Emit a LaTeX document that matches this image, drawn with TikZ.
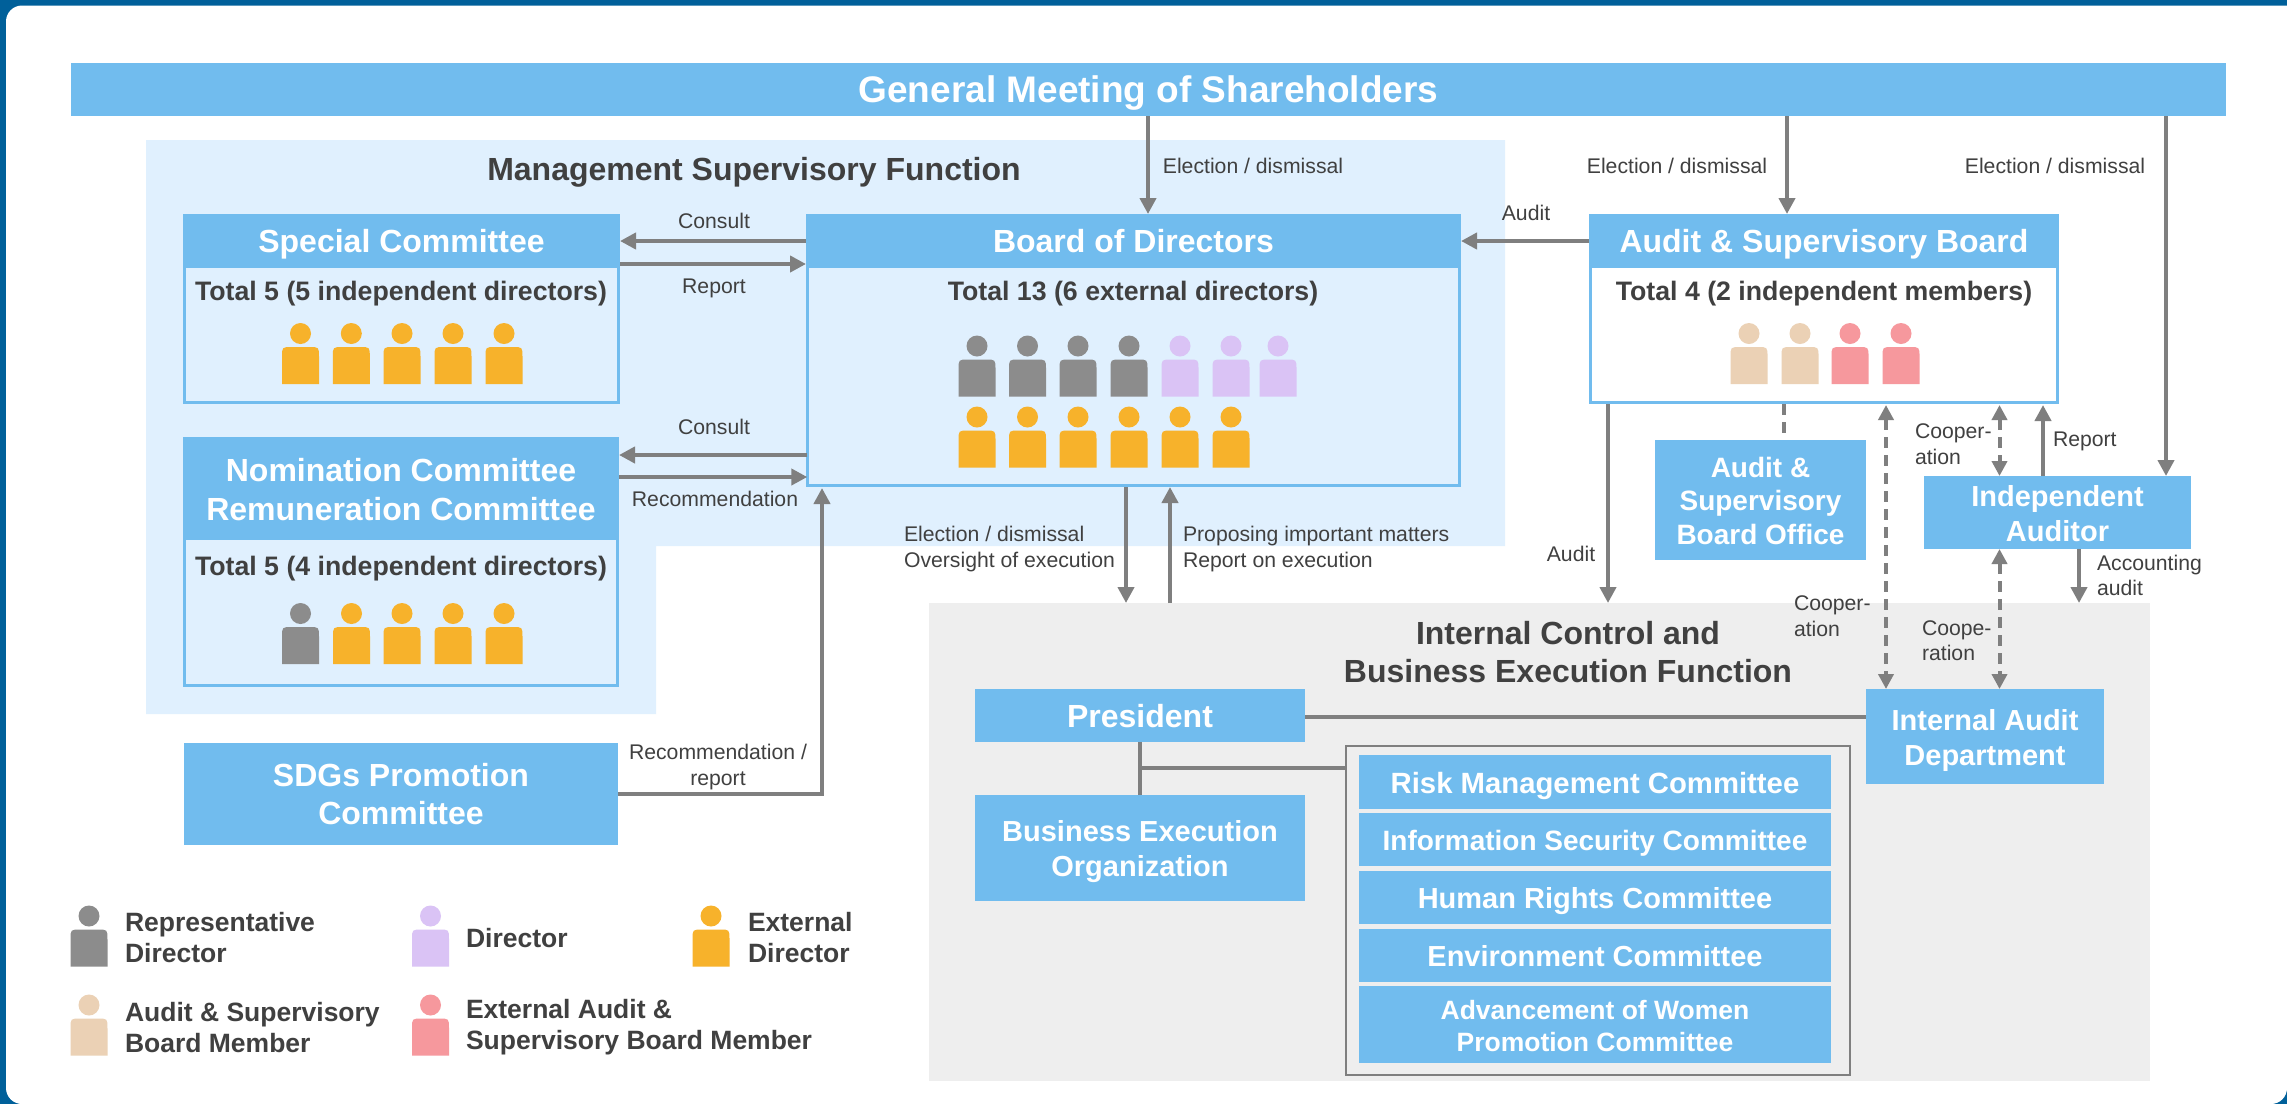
\documentclass[tikz,border=0pt]{standalone}
\usepackage{fontspec}
\setmainfont{Liberation Sans}
\usetikzlibrary{arrows.meta,calc}
\definecolor{frameblue}{HTML}{00609A}
\definecolor{boxblue}{HTML}{71BCEE}
\definecolor{paleblue}{HTML}{E0F0FE}
\definecolor{palegray}{HTML}{EEEEEE}
\definecolor{linegray}{HTML}{7F7F7F}
\definecolor{txt}{HTML}{404040}
\definecolor{prep}{HTML}{8C8C8C}
\definecolor{pdir}{HTML}{DAC3F5}
\definecolor{pext}{HTML}{F7B22B}
\definecolor{paud}{HTML}{EBD1B5}
\definecolor{pxau}{HTML}{F6989D}
\newcommand{\fsz}[2]{\fontsize{#1pt}{#2pt}\selectfont}
% centred block of lines, optically centred in its node
\newcommand{\blk}[3]{\raisebox{-10.5pt}[0pt][0pt]{\fsz{#1}{#2}\begin{tabular}[c]{@{}c@{}}#3\end{tabular}}}
\tikzset{
  region/.style={fill=#1,draw=none,inner sep=0,outer sep=0},
  bluebox/.style={fill=boxblue,draw=none,inner sep=0,outer sep=0,text=white,font=\bfseries},
  outline/.style={fill=#1,draw=boxblue,line width=2.6pt,inner sep=0,outer sep=0},
  graybox/.style={draw=linegray,line width=2.6pt,fill=none,inner sep=0,outer sep=0},
  lbl/.style={text=txt,inner sep=0,outer sep=0,font=\fsz{21.2}{26},align=center},
  lbll/.style={text=txt,inner sep=0,outer sep=0,font=\fsz{21.2}{25.5},align=left,anchor=west},
  lead/.style={text=txt,inner sep=0,outer sep=0,font=\bfseries\fsz{26.7}{32}},
  legendtext/.style={text=txt,inner sep=0,outer sep=0,font=\bfseries\fsz{26.5}{31},align=left,anchor=west},
  headline/.style={text=txt,inner sep=0,outer sep=0,font=\bfseries\fsz{32}{38},align=center},
  conn/.style={draw=linegray,line width=4.4pt},
  arr/.style={conn,-{Triangle[length=16pt,width=16pt]}},
  darr/.style={draw=linegray,line width=4pt,dash pattern=on 11pt off 7pt,{Triangle[length=15pt,width=15pt]}-{Triangle[length=15pt,width=15pt]}},
  dline/.style={draw=linegray,line width=4pt,dash pattern=on 11pt off 7pt},
}
% [style]{name}{x0}{y0}{x1}{y1}{text}
\newcommand{\rectnode}[7][]{%
  \pgfmathsetmacro\rnw{#5-#3}\pgfmathsetmacro\rnh{#6-#4}%
  \pgfmathsetmacro\rnx{(#3+#5)/2}\pgfmathsetmacro\rny{(#4+#6)/2}%
  \node[#1,minimum width=\rnw pt,minimum height=\rnh pt] (#2) at (\rnx,\rny) {#7};}
% {x}{head centre y}{colour}
\newcommand{\person}[3]{%
  \pgfmathsetmacro\pl{#1-18.5}\pgfmathsetmacro\pr{#1+18.5}%
  \pgfmathsetmacro\pt{#2+13.5}\pgfmathsetmacro\pb{#2+50.5}%
  \pgfmathsetmacro\pla{#1-8.5}\pgfmathsetmacro\pra{#1+8.5}\pgfmathsetmacro\pta{#2+23.5}%
  \fill[#3] (#1,#2) circle (10.5);
  \fill[#3] (\pl,\pb) -- (\pl,\pta) .. controls (\pl,\pt) and (\pl,\pt) .. (\pla,\pt)
     -- (\pra,\pt) .. controls (\pr,\pt) and (\pr,\pt) .. (\pr,\pta) -- (\pr,\pb) -- cycle;}
\begin{document}
\begin{tikzpicture}[x=1pt,y=-1pt]
\useasboundingbox (0,0) rectangle (2287,1104);
\fill[frameblue] (0,0) rectangle (2287,1104);
\fill[white] [rounded corners=16pt] (2287,5.5) -- (6,5.5) -- (6,1104) -- (2287,1104) [sharp corners] -- cycle;

% regions
\fill[paleblue] (146,140) -- (1505,140) -- (1505,546) -- (656,546) -- (656,714) -- (146,714) -- cycle;
\rectnode[region=palegray]{icb}{929}{603}{2150}{1081}{}

% top bar
\rectnode[bluebox]{gms}{71}{63}{2226}{116}{\blk{37}{42}{General Meeting of Shareholders}}

% boxes with header
\rectnode[outline=paleblue]{sc}{184.3}{215.3}{618.7}{402.7}{}
\rectnode[bluebox]{schead}{183}{214}{620}{268}{\blk{32}{38}{Special Committee}}
\rectnode[outline=paleblue]{bod}{807.3}{215.3}{1459.7}{485.7}{}
\rectnode[bluebox]{bodhead}{806}{214}{1461}{268}{\blk{32}{38}{Board of Directors}}
\rectnode[outline=paleblue]{nrc}{184.3}{438.3}{617.7}{685.7}{}
\rectnode[bluebox]{nrchead}{183}{437}{619}{540}{\blk{32}{39}{Nomination Committee\\Remuneration Committee}}
\rectnode[outline=white]{asb}{1590.3}{215.3}{2057.7}{402.7}{}
\rectnode[bluebox]{asbhead}{1589}{214}{2059}{268}{\blk{32}{38}{Audit \& Supervisory Board}}

% plain boxes
\rectnode[bluebox]{sdg}{184}{743}{618}{845}{\blk{32}{38}{SDGs Promotion\\Committee}}
\rectnode[bluebox]{aso}{1655}{440}{1866}{560}{\blk{28}{33.5}{Audit \&\\Supervisory\\Board Office}}
\rectnode[bluebox]{ia}{1924}{476}{2191}{549}{\blk{29}{35}{Independent\\Auditor}}
\rectnode[bluebox]{iad}{1866}{689}{2104}{784}{\blk{29}{35}{Internal Audit\\Department}}
\rectnode[bluebox]{pres}{975}{689}{1305}{742}{\blk{32}{38}{President}}
\rectnode[bluebox]{beo}{975}{795}{1305}{901}{\blk{29}{35}{Business Execution\\Organization}}
\rectnode[graybox]{cbox}{1346}{746}{1850}{1075}{}
\rectnode[bluebox]{c1}{1359}{755}{1831}{809}{\blk{29.3}{34}{Risk Management Committee}}
\rectnode[bluebox]{c2}{1359}{813}{1831}{866}{\blk{28}{34}{Information Security Committee}}
\rectnode[bluebox]{c3}{1359}{871}{1831}{924}{\blk{29}{34}{Human Rights Committee}}
\rectnode[bluebox]{c4}{1359}{929}{1831}{982}{\blk{29}{34}{Environment Committee}}
\rectnode[bluebox]{c5}{1359}{986}{1831}{1063}{\blk{26.5}{32}{Advancement of Women\\Promotion Committee}}

% headings
\node[headline] (msf) at (754,172) {Management Supervisory Function};
\node[headline] (icbt) at (1568,652) {Internal Control and\\Business Execution Function};
\node[lead] (sctot) at (401,293.5) {Total 5 (5 independent directors)};
\node[lead] (bodtot) at (1133,293.5) {Total 13 (6 external directors)};
\node[lead] (nrctot) at (401,568.5) {Total 5 (4 independent directors)};
\node[lead] (asbtot) at (1824,293.5) {Total 4 (2 independent members)};

% people
\foreach \x in {300.5,351.3,402,453,504} {\person{\x}{333.5}{pext}}
\foreach \x in {977,1027.5,1078,1129} {\person{\x}{346}{prep}}
\foreach \x in {1180,1231,1278} {\person{\x}{346}{pdir}}
\foreach \x in {977,1027.5,1078,1129,1180,1231} {\person{\x}{417}{pext}}
\person{300.5}{613.5}{prep}
\foreach \x in {351.5,402,453,504} {\person{\x}{613.5}{pext}}
\foreach \x in {1749,1800} {\person{\x}{333.5}{paud}}
\foreach \x in {1850,1901} {\person{\x}{333.5}{pxau}}

% legend
\person{89}{916}{prep}
\person{430.5}{916}{pdir}
\person{711}{916}{pext}
\person{89}{1005}{paud}
\person{430.5}{1005}{pxau}
\node[legendtext] (l1) at (125,938) {Representative\\Director};
\node[legendtext] (l2) at (466,938) {Director};
\node[legendtext] (l3) at (748,938) {External\\Director};
\node[legendtext] (l4) at (125,1027.5) {Audit \& Supervisory\\Board Member};
\node[legendtext] (l5) at (466,1027.5) {External Audit \&\\Supervisory Board Member};

% connectors
\draw[arr] (gms.south -| 1148,0) -- (bodhead.north -| 1148,0);
\draw[arr] (gms.south -| 1787,0) -- (asbhead.north -| 1787,0);
\draw[arr] (gms.south -| 2166,0) -- (ia.north -| 2166,0);
\draw[arr] (bodhead.west |- 0,241) -- (schead.east |- 0,241);
\draw[arr] (schead.east |- 0,264) -- (bodhead.west |- 0,264);
\draw[arr] (bod.west |- 0,455) -- (nrchead.east |- 0,455);
\draw[arr] (nrchead.east |- 0,477) -- (bod.west |- 0,477);
\draw[arr] (sdg.east |- 0,794) -| (822,488);
\draw[arr] (asbhead.west) -- (bodhead.east);
\draw[arr] (1126,487) -- (icb.north -| 1126,0);
\draw[arr] (icb.north -| 1170,0) -- (1170,487);
\draw[arr] (1608,404) -- (icb.north -| 1608,0);
\draw[dline] (1784,404) -- (aso.north -| 1784,0);
\draw[darr] (1886,405) -- (iad.north -| 1886,0);
\draw[darr] (1999.5,405) -- (ia.north -| 1999.5,0);
\draw[arr] (ia.north -| 2043,0) -- (2043,405);
\draw[darr] (ia.south -| 1999.5,0) -- (iad.north -| 1999.5,0);
\draw[arr] (ia.south -| 2079,0) -- (icb.north -| 2079,0);
\draw[conn] (pres.east |- 0,717) -- (iad.west |- 0,717);
\draw[conn,line width=3.4pt] (pres.south) -- (beo.north);
\draw[conn] (1140,768) -- (cbox.west |- 0,768);

% connector labels
\node[lbl] (e1) at (1253,166) {Election / dismissal};
\node[lbl] (e2) at (1677,166) {Election / dismissal};
\node[lbl] (e3) at (2055,166) {Election / dismissal};
\node[lbl] (a1) at (1526,213) {Audit};
\node[lbl] (t1) at (714,220.5) {Consult};
\node[lbl] (t2) at (714,288) {Report};
\node[lbl] (t3) at (714,427) {Consult};
\node[lbl] (t4) at (715,499) {Recommendation};
\node[lbl] (t5) at (718,767.5) {Recommendation /\\report};
\node[lbll] (t6) at (904,549) {Election / dismissal\\Oversight of execution};
\node[lbll] (t7) at (1183,549) {Proposing important matters\\Report on execution};
\node[lbl] (a2) at (1571,554) {Audit};
\node[lbll] (t8) at (1915,444) {Cooper-\\ation};
\node[lbll] (t9) at (2053,441) {Report};
\node[lbll] (t10) at (2097,575.5) {Accounting\\audit};
\node[lbll] (t11) at (1794,616) {Cooper-\\ation};
\node[lbll] (t12) at (1922,640.5) {Coope-\\ration};
\end{tikzpicture}
\end{document}
